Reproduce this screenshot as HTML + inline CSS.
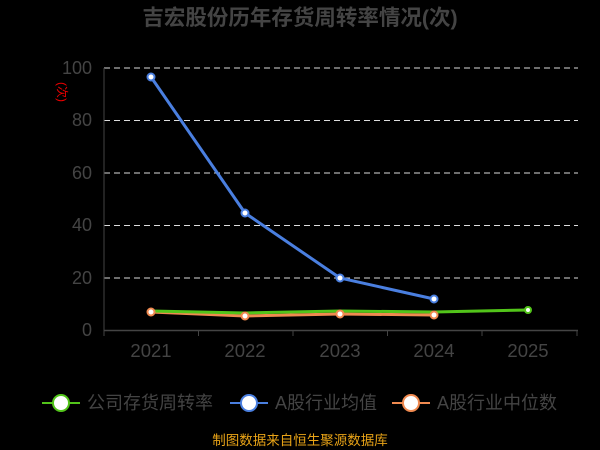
<!DOCTYPE html>
<html><head><meta charset="utf-8"><style>
body{margin:0;background:#000;width:600px;height:450px;overflow:hidden}
svg{display:block;font-family:"Liberation Sans","Noto Sans CJK SC",sans-serif}
</style></head><body>
<svg width="600" height="450" viewBox="0 0 600 450">
<rect width="600" height="450" fill="#000"/>
<text x="300" y="25" text-anchor="middle" font-size="21.5" font-weight="bold" fill="#444">吉宏股份历年存货周转率情况(次)</text>
<g stroke="#ddd" stroke-dasharray="6,4" stroke-width="1">
<line x1="104" y1="68" x2="578" y2="68"/><line x1="104" y1="120.5" x2="578" y2="120.5"/>
<line x1="104" y1="173" x2="578" y2="173"/><line x1="104" y1="225.5" x2="578" y2="225.5"/>
<line x1="104" y1="278" x2="578" y2="278"/>
</g>
<g fill="#444" font-size="18" text-anchor="end">
<text x="92" y="74">100</text><text x="92" y="126">80</text><text x="92" y="179">60</text>
<text x="92" y="231">40</text><text x="92" y="284">20</text><text x="92" y="336">0</text>
</g>
<text x="58" y="92" fill="#e00" font-size="12" transform="rotate(90 58 92)" text-anchor="middle">(次)</text>
<line x1="104" y1="68" x2="104" y2="335" stroke="#444"/>
<line x1="104" y1="330.5" x2="578" y2="330.5" stroke="#444" stroke-width="1.5"/>
<g stroke="#444"><line x1="104" y1="330" x2="104" y2="336"/><line x1="198.5" y1="330" x2="198.5" y2="336"/><line x1="293" y1="330" x2="293" y2="336"/><line x1="387.5" y1="330" x2="387.5" y2="336"/><line x1="482" y1="330" x2="482" y2="336"/><line x1="577" y1="330" x2="577" y2="336"/></g>
<g fill="#444" font-size="18.5" text-anchor="middle">
<text x="151" y="357">2021</text><text x="245" y="357">2022</text><text x="340" y="357">2023</text><text x="434" y="357">2024</text><text x="528" y="357">2025</text>
</g>
<polyline points="151,312 245,316 340,314 434,315" fill="none" stroke="#f08a50" stroke-width="3"/>
<polyline points="151,311 245,313 340,311 434,312 528,310" fill="none" stroke="#52c41a" stroke-width="3"/>
<polyline points="151,77 245,213 340,278 434,299" fill="none" stroke="#4a7fe0" stroke-width="3"/>
<g fill="#fff" stroke-width="2">
<circle cx="151" cy="77" r="3.5" stroke="#4a7fe0"/><circle cx="245" cy="213" r="3.5" stroke="#4a7fe0"/><circle cx="340" cy="278" r="3.5" stroke="#4a7fe0"/><circle cx="434" cy="299" r="3.5" stroke="#4a7fe0"/>
<circle cx="528" cy="310" r="3" stroke="#52c41a"/>
<circle cx="151" cy="312" r="3.5" stroke="#f08a50"/><circle cx="245" cy="316" r="3.5" stroke="#f08a50"/><circle cx="340" cy="314" r="3.5" stroke="#f08a50"/><circle cx="434" cy="315" r="3.5" stroke="#f08a50"/>
</g>
<g font-size="18" fill="#444">
<line x1="42" y1="403" x2="80" y2="403" stroke="#52c41a" stroke-width="2"/><circle cx="61" cy="403" r="8" fill="#fff" stroke="#52c41a" stroke-width="2"/>
<text x="87" y="409">公司存货周转率</text>
<line x1="230" y1="403" x2="268" y2="403" stroke="#4a7fe0" stroke-width="2"/><circle cx="249" cy="403" r="8" fill="#fff" stroke="#4a7fe0" stroke-width="2"/>
<text x="275" y="409">A股行业均值</text>
<line x1="392" y1="403" x2="430" y2="403" stroke="#f08a50" stroke-width="2"/><circle cx="411" cy="403" r="8" fill="#fff" stroke="#f08a50" stroke-width="2"/>
<text x="437" y="409">A股行业中位数</text>
</g>
<text x="300" y="445" text-anchor="middle" font-size="13.5" fill="#e8a317">制图数据来自恒生聚源数据库</text>
</svg>
</body></html>
